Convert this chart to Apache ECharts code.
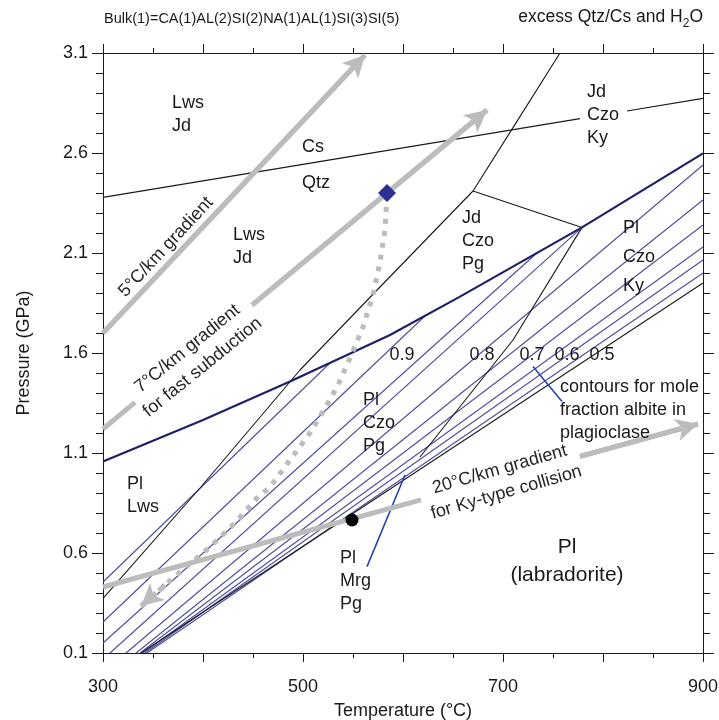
<!DOCTYPE html>
<html><head><meta charset="utf-8">
<script src="https://cdn.jsdelivr.net/npm/echarts@6/dist/echarts.min.js"></script>
<style>html,body{margin:0;padding:0;background:#fff}#c{width:719px;height:720px}</style>
</head><body><div id="c"></div>
<script>
// ---------- data (temperature °C, pressure GPa) ----------
const xTickLabels = [300, 500, 700, 900];
const yTickLabels = [0.1, 0.6, 1.1, 1.6, 2.1, 2.6, 3.1];

const qtzCsLow = [[300, 2.378], [777, 2.772]];
const qtzCsHigh = [[824, 2.810], [900, 2.873]];
const lawsoniteOut = [[300, 0.373], [397, 0.925], [497, 1.515], [577, 1.93], [670, 2.41], [710, 2.727], [757, 3.1]];
const tieLine = [[670, 2.41], [779, 2.228]];
const plagioclaseIn = [[300, 1.057], [400, 1.265], [487, 1.457], [587, 1.69], [657, 1.882], [779, 2.228], [900, 2.598]];
const paragoniteOut = [[779, 2.228], [710, 1.665], [617, 1.08]];
const lowerBoundary = [[338, 0.1], [900, 1.95]];

const contour095 = [[300, 0.455], [527, 1.55]];
const contour090 = [[300, 0.255], [623, 1.79]];
const contour085 = [[300, 0.15], [735, 2.105]];
const contour080 = [[307, 0.1], [779, 2.228]];
const contour075 = [[323, 0.1], [900, 2.54]];
const contour070 = [[333, 0.1], [900, 2.365]];
const contour065 = [[337, 0.1], [900, 2.24]];
const contour060 = [[340, 0.1], [900, 2.13]];
const contour055 = [[342, 0.1], [900, 2.065]];
const contour050 = [[344, 0.1], [900, 2.0]];
const contours = [contour095, contour090, contour085, contour080, contour075, contour070, contour065, contour060, contour055, contour050];

const contourLabels = ['0.9', '0.8', '0.7', '0.6', '0.5'];
const contourLabelT = [599, 679, 729, 764, 799];
const contourLabelP = 1.59;

const gradient5 = [[300, 1.70], [562, 3.09]];
const gradient7a = [[300, 1.22], [332, 1.353]];
const gradient7b = [[449, 1.839], [684, 2.815]];
const gradient20a = [[300, 0.43], [618, 0.866]];
const gradient20b = [[777, 1.083], [895, 1.245]];
const ptPath = [[584, 2.39], [582, 2.215], [577, 2.055], [570, 1.89], [560, 1.73], [547, 1.575], [535, 1.44], [525, 1.35], [507, 1.2], [487, 1.065], [467, 0.93], [454, 0.875], [432, 0.75], [407, 0.63], [382, 0.525], [362, 0.44], [338, 0.335]];
const peakPoint = [584, 2.40];
const collisionPoint = [549, 0.765];

const leaderMrg = [[564, 0.532], [602, 0.99]];
const leaderContour = [[730, 1.532], [759, 1.357]];

// annotation texts and their anchor (T, P)
const phaseTexts = ['Lws\nJd', 'Lws\nJd', 'Jd\nCzo\nKy', 'Jd\nCzo\nPg', 'Pl\nCzo\nPg', 'Pl\nLws', 'Pl\nMrg\nPg'];
const phaseAnchors = [[369, 2.79], [430, 2.1325], [784, 2.79], [659, 2.16], [560, 1.25], [324, 0.885], [537, 0.46]];
const singleTexts = ['Cs', 'Qtz'];
const singleAnchors = [[499, 2.6275], [499, 2.45]];
const plCzoKyText = 'Pl\nCzo\nKy';
const plCzoKyAnchor = [820, 2.08];
const labradoriteText = 'Pl\n(labradorite)';
const labradoriteAnchor = [764, 0.56];
const contourNote = 'contours for mole\nfraction albite in\nplagioclase';
const contourNoteAnchor = [757, 1.315];
const gradientTexts = ['5°C/km gradient', '7°C/km gradient\nfor fast subduction', '20°C/km gradient\nfor Ky-type collision'];
const gradientAnchors = [[363, 2.13], [392, 1.575], [700, 0.96]];
const gradientAngles = [47, 39, 16];

// ---------- chart ----------
const FONT = "'Liberation Sans', Arial, Helvetica, sans-serif";
const INK = '#1a1a1a';
const GRAY = '#bcbcbc';
const chart = echarts.init(document.getElementById('c'));

function poly(data, color, width, z, type) {
  return {type: 'line', data: data, symbol: 'none', showSymbol: false, silent: true, animation: false,
    lineStyle: {color: color, width: width, type: type || 'solid', cap: 'butt'}, z: z || 2};
}
// gray gradient line; the arrow head is a markLine on its final segment
function grayArrow(data, dash, head) {
  const s = poly(data, GRAY, 5, 6, dash);
  if (head) {
    const n = data.length;
    s.markLine = {silent: true, animation: false, symbol: ['none', 'arrow'], symbolSize: [17, 22],
      label: {show: false}, lineStyle: {color: GRAY, width: 5, type: dash || 'solid', cap: 'butt'},
      emphasis: {disabled: true},
      data: [[{coord: data[n - 2]}, {coord: data[n - 1]}]]};
  }
  return s;
}
function textSeries(items, anchors, labelStyle, z) {
  return {type: 'scatter', symbolSize: 0.1, silent: true, animation: false, z: z || 10,
    itemStyle: {color: 'rgba(0,0,0,0)', opacity: 1},
    data: items.map((t, i) => ({value: anchors[i], label: Object.assign({show: true, formatter: t,
      position: 'inside', fontFamily: FONT, color: INK, opacity: 1}, labelStyle)}))};
}
function rotTextSeries() {
  return {type: 'scatter', symbolSize: 0.1, silent: true, animation: false, z: 10,
    itemStyle: {color: 'rgba(0,0,0,0)', opacity: 1},
    data: gradientTexts.map((t, i) => ({value: gradientAnchors[i], label: {show: true, formatter: t,
      position: 'inside', align: 'center', verticalAlign: 'middle', rotate: gradientAngles[i],
      fontSize: 18, lineHeight: 24, fontFamily: FONT, color: '#262626', opacity: 1}}))};
}

const axisCommon = {
  type: 'value', splitLine: {show: false}, minorSplitLine: {show: false},
  axisLine: {show: true, onZero: false, lineStyle: {color: INK, width: 1}},
  axisTick: {show: true, inside: false, length: 9, lineStyle: {color: INK, width: 1}},
  minorTick: {show: true, length: 5, lineStyle: {color: INK, width: 1}}
};

const series = [];
contours.forEach(c => series.push(poly(c, '#4d4d9e', 1.1, 2)));
series.push(poly(qtzCsLow, INK, 1.1, 3));
series.push(poly(qtzCsHigh, INK, 1.1, 3));
series.push(poly(lawsoniteOut, INK, 1.1, 3));
series.push(poly(tieLine, INK, 1.1, 3));
series.push(poly(paragoniteOut, INK, 1.1, 3));
series.push(poly(lowerBoundary, INK, 1.1, 3));
series.push(poly(plagioclaseIn, '#1f1f66', 2.2, 4));
series.push(poly(leaderMrg, '#2547a8', 1.6, 4));
series.push(poly(leaderContour, '#2547a8', 1.6, 4));
series.push(grayArrow(gradient5, 'solid', true));
series.push(grayArrow(gradient7a, 'solid', false));
series.push(grayArrow(gradient7b, 'solid', true));
series.push(grayArrow(gradient20a, 'solid', false));
series.push(grayArrow(gradient20b, 'solid', true));
series.push(grayArrow(ptPath, [5, 7], true));
series.push({type: 'scatter', data: [peakPoint], symbol: 'diamond', symbolSize: [18, 18], itemStyle: {color: '#2b2f91', opacity: 1}, z: 8, silent: true, animation: false});
series.push({type: 'scatter', data: [collisionPoint], symbol: 'circle', symbolSize: 13, itemStyle: {color: '#000', opacity: 1}, z: 8, silent: true, animation: false});
series.push(textSeries(phaseTexts, phaseAnchors, {align: 'left', verticalAlign: 'middle', fontSize: 18, lineHeight: 23}));
series.push(textSeries(singleTexts, singleAnchors, {align: 'left', verticalAlign: 'middle', fontSize: 18}));
series.push(textSeries([plCzoKyText], [plCzoKyAnchor], {align: 'left', verticalAlign: 'middle', fontSize: 18, lineHeight: 29}));
series.push(textSeries([labradoriteText], [labradoriteAnchor], {align: 'center', verticalAlign: 'middle', fontSize: 21, lineHeight: 28}));
series.push(textSeries([contourNote], [contourNoteAnchor], {align: 'left', verticalAlign: 'middle', fontSize: 18, lineHeight: 23}));
series.push(textSeries(contourLabels, contourLabelT.map(t => [t, contourLabelP]), {align: 'center', verticalAlign: 'middle', fontSize: 18}));
series.push(rotTextSeries());

chart.setOption({
  animation: false,
  backgroundColor: '#fff',
  grid: {left: 103, top: 53, width: 600, height: 600, containLabel: false, outerBoundsMode: 'none'},
  xAxis: [
    Object.assign({}, axisCommon, {position: 'bottom', min: 300, max: 900, interval: 100,
      minorTick: Object.assign({}, axisCommon.minorTick, {splitNumber: 2}),
      axisLabel: {show: true, margin: 25, fontSize: 18, color: INK, fontFamily: FONT,
        formatter: v => xTickLabels.includes(Math.round(v)) ? String(Math.round(v)) : ''},
      name: 'Temperature (°C)', nameLocation: 'middle', nameGap: 49,
      nameTextStyle: {fontSize: 18, color: INK, fontFamily: FONT}}),
    Object.assign({}, axisCommon, {position: 'top', min: 300, max: 900, interval: 100,
      minorTick: Object.assign({}, axisCommon.minorTick, {splitNumber: 2}),
      axisLabel: {show: false}})
  ],
  yAxis: [
    Object.assign({}, axisCommon, {position: 'left', min: 0.1, max: 3.1, interval: 0.5,
      axisTick: Object.assign({}, axisCommon.axisTick, {length: 11}),
      minorTick: Object.assign({}, axisCommon.minorTick, {splitNumber: 5, length: 7}),
      axisLabel: {show: true, margin: 15, fontSize: 18, color: INK, fontFamily: FONT,
        formatter: v => {const s = (Math.round(v * 10) / 10).toFixed(1); return yTickLabels.map(t => t.toFixed(1)).includes(s) ? s : '';}},
      name: 'Pressure (GPa)', nameLocation: 'middle', nameGap: 70, nameRotate: 90,
      nameTextStyle: {fontSize: 18, color: INK, fontFamily: FONT}}),
    Object.assign({}, axisCommon, {position: 'right', min: 0.1, max: 3.1, interval: 0.5,
      axisTick: Object.assign({}, axisCommon.axisTick, {length: 11}),
      minorTick: Object.assign({}, axisCommon.minorTick, {splitNumber: 5, length: 7}),
      axisLabel: {show: false}})
  ],
  graphic: [
    {type: 'text', left: 104, top: 11, style: {text: 'Bulk(1)=CA(1)AL(2)SI(2)NA(1)AL(1)SI(3)SI(5)', fontSize: 14.5, fontFamily: FONT, fill: INK}},
    {type: 'text', right: 16, top: 8, style: {text: '{a|excess Qtz/Cs and H}{s|2}{a|O}', fontFamily: FONT, fill: INK,
      rich: {a: {fontSize: 17.5, lineHeight: 22, verticalAlign: 'bottom', fontFamily: FONT, fill: INK},
             s: {fontSize: 12, lineHeight: 22, verticalAlign: 'bottom', padding: [0, 0, -4, 0], fontFamily: FONT, fill: INK}}}}
  ],
  series: series
});
</script></body></html>
